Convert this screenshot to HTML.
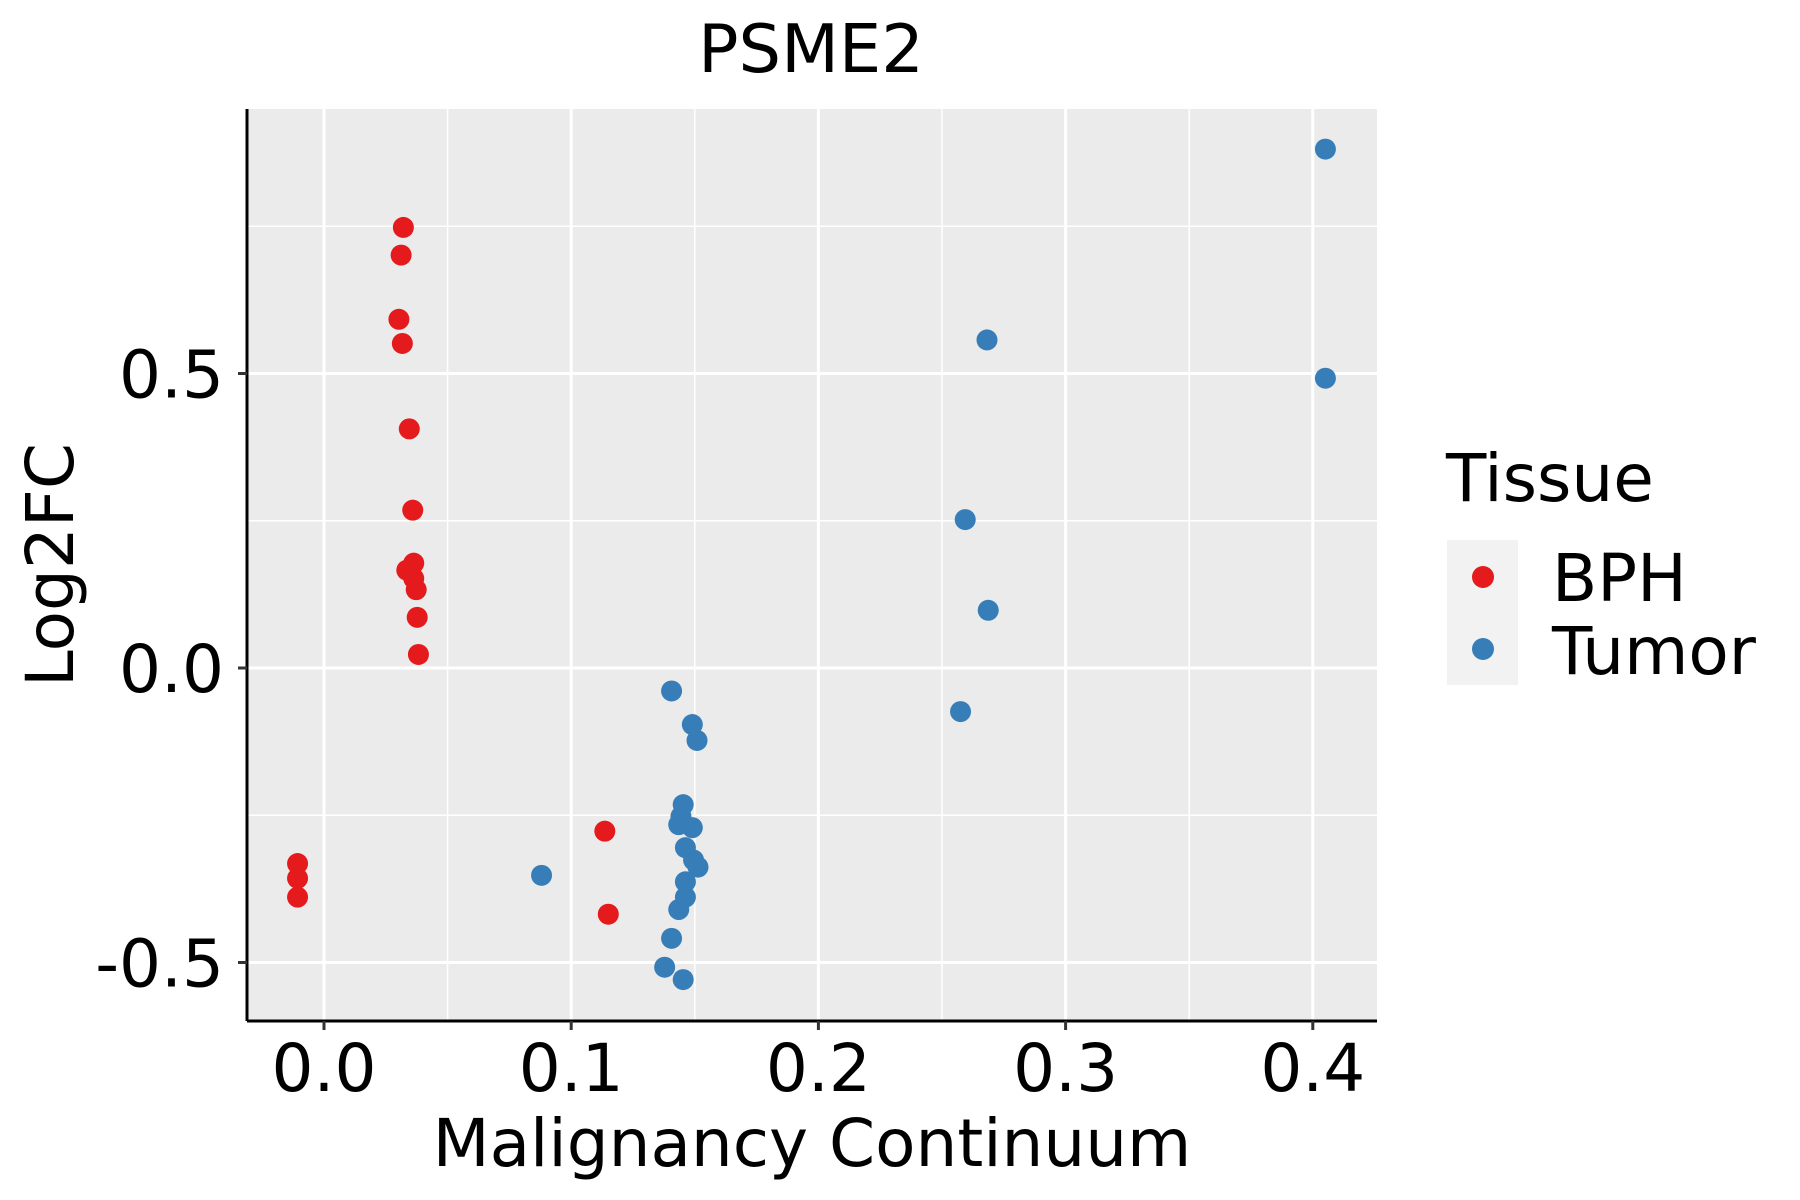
<!DOCTYPE html>
<html><head><meta charset="utf-8"><style>
body{margin:0;background:#fff}
svg{display:block;font-family:"DejaVu Sans","Liberation Sans",sans-serif}
</style></head><body>
<svg id="chart" width="1800" height="1200" viewBox="0 0 1800 1200" xmlns="http://www.w3.org/2000/svg">
<rect width="1800" height="1200" fill="#fff"/>
<text x="811" y="72" font-size="67" text-anchor="middle">PSME2</text>
<rect x="247" y="109" width="1130" height="912" fill="#ebebeb"/>
<g id="grid"></g>
<g id="points"></g>
<line x1="247" y1="1021" x2="1377" y2="1021" stroke="#000" stroke-width="3"/>
<line x1="247" y1="109" x2="247" y2="1021" stroke="#000" stroke-width="3"/>
<g id="axes"></g>
<text x="812" y="1166" font-size="66" text-anchor="middle">Malignancy Continuum</text>
<text transform="translate(73,565) rotate(-90)" font-size="66" text-anchor="middle">Log2FC</text>
<g>
<text x="1446" y="501" font-size="66">Tissue</text>
<rect x="1447" y="540" width="71" height="145" fill="#f2f2f2"/>
<circle cx="1483" cy="577" r="11" fill="#E41A1C"/>
<circle cx="1483" cy="649" r="11" fill="#377EB8"/>
<text x="1552" y="601" font-size="66">BPH</text>
<text x="1552" y="674" font-size="66">Tumor</text>
</g>
</svg>
<script>
const bphX=[0.0321,0.0312,0.0303,0.0317,0.0345,0.0359,0.0363,0.0335,0.0363,0.0373,0.0377,0.0382,-0.0107,-0.0107,-0.0107,0.1136,0.115];
const bphY=[0.748,0.701,0.592,0.551,0.406,0.268,0.178,0.166,0.152,0.133,0.086,0.023,-0.332,-0.357,-0.389,-0.277,-0.418];
const tumorX=[0.4051,0.2682,0.4051,0.2594,0.2687,0.2575,0.1406,0.149,0.1509,0.1453,0.1444,0.1435,0.149,0.1462,0.1495,0.1513,0.1462,0.1462,0.1435,0.1406,0.088,0.1378,0.1453];
const tumorY=[0.881,0.557,0.492,0.252,0.098,-0.074,-0.039,-0.096,-0.123,-0.232,-0.252,-0.266,-0.271,-0.305,-0.326,-0.338,-0.363,-0.389,-0.410,-0.459,-0.352,-0.508,-0.529];
const xTicks=[0,0.1,0.2,0.3,0.4];
const xTickLabels=["0.0","0.1","0.2","0.3","0.4"];
const yTicks=[-0.5,0,0.5];
const yTickLabels=["-0.5","0.0","0.5"];
const xMinor=[0.05,0.15,0.25,0.35];
const yMinor=[-0.25,0.25,0.75];

const NS="http://www.w3.org/2000/svg";
const L=247,R=1377,T=109,B=1021;
function sx(v){return 324+v*2472;}
function sy(v){return 668-v*589;}
function mk(tag,attrs,parent){const e=document.createElementNS(NS,tag);for(const k in attrs)e.setAttribute(k,attrs[k]);parent.appendChild(e);return e;}
const grid=document.getElementById('grid'),axes=document.getElementById('axes'),pts=document.getElementById('points');
xMinor.forEach(v=>{const e=mk('line',{x1:sx(v),x2:sx(v),y1:T,y2:B,stroke:'#fff','stroke-width':1.5},grid);

});
yMinor.forEach(v=>{const e=mk('line',{x1:L,x2:R,y1:sy(v),y2:sy(v),stroke:'#fff','stroke-width':1.5},grid);

});
xTicks.forEach((v,i)=>{const g=mk('line',{x1:sx(v),x2:sx(v),y1:T,y2:B,stroke:'#fff','stroke-width':3},grid);


const t=mk('line',{x1:sx(v),x2:sx(v),y1:B,y2:B+9,stroke:'#333','stroke-width':3},axes);


const l=mk('text',{x:sx(v),y:1091,'font-size':66,'text-anchor':'middle',fill:'#000'},axes);l.textContent=xTickLabels[i];

});
yTicks.forEach((v,i)=>{const g=mk('line',{x1:L,x2:R,y1:sy(v),y2:sy(v),stroke:'#fff','stroke-width':3},grid);


const t=mk('line',{x1:L-9,x2:L,y1:sy(v),y2:sy(v),stroke:'#333','stroke-width':3},axes);


const l=mk('text',{x:224,y:sy(v)+24,'font-size':66,'text-anchor':'end',fill:'#000'},axes);l.textContent=yTickLabels[i];

});
bphX.forEach((v,i)=>{const c=mk('circle',{cx:sx(v),cy:sy(bphY[i]),r:10.5,fill:'#E41A1C'},pts);

});
tumorX.forEach((v,i)=>{const c=mk('circle',{cx:sx(v),cy:sy(tumorY[i]),r:10.5,fill:'#377EB8'},pts);

});
</script>
</body></html>
